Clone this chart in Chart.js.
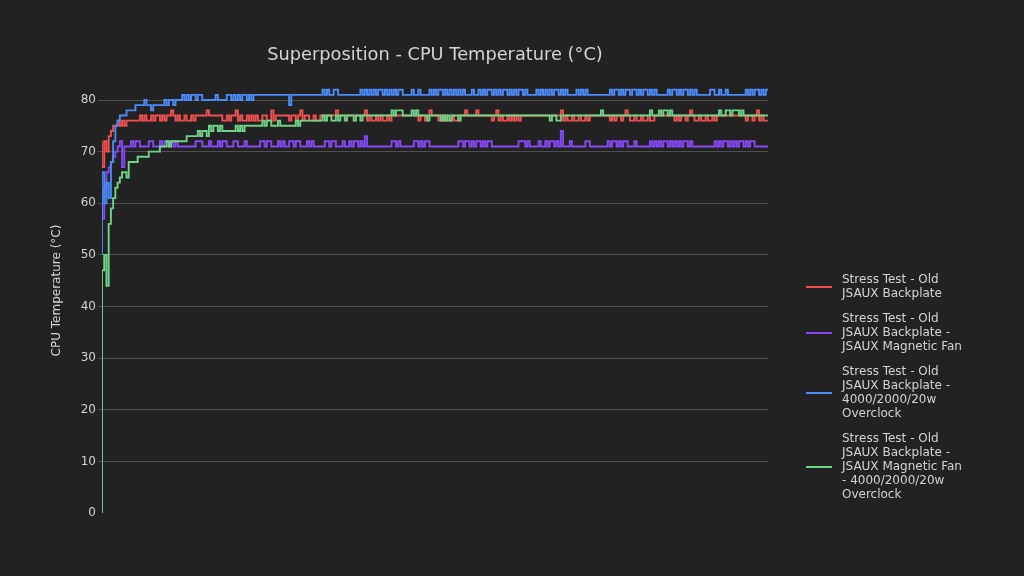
<!DOCTYPE html>
<html>
<head>
<meta charset="utf-8">
<script src="https://cdn.jsdelivr.net/npm/chart.js@4.4.1/dist/chart.umd.min.js"></script>
<style>
  html, body { margin: 0; padding: 0; background: #222222; }
  #wrap { width: 1024px; height: 576px; position: relative; }
</style>
</head>
<body>
<div id="wrap"><canvas id="c" width="1024" height="576"></canvas></div>
<script>
// ---------------- DATA ----------------
const chartTitle = "Superposition - CPU Temperature (°C)";
const yAxisTitle = "CPU Temperature (°C)";
const yTicks = [0, 10, 20, 30, 40, 50, 60, 70, 80];

const seriesNames = [
  ["Stress Test - Old", "JSAUX Backplate"],
  ["Stress Test - Old", "JSAUX Backplate -", "JSAUX Magnetic Fan"],
  ["Stress Test - Old", "JSAUX Backplate -", "4000/2000/20w", "Overclock"],
  ["Stress Test - Old", "JSAUX Backplate -", "JSAUX Magnetic Fan", "- 4000/2000/20w", "Overclock"]
];

// Stress Test - Old JSAUX Backplate
const oldBackplate = [
  72,67,72,70,73,74,75,75,76,75,76,75,76,76,76,76,76,76,77,76,
  77,76,76,77,76,77,77,76,77,76,77,77,78,77,76,77,76,76,77,76,
  76,77,76,77,77,77,77,77,78,77,77,77,77,77,77,76,76,77,76,77,
  77,78,76,77,76,76,77,76,77,76,77,76,76,77,77,76,76,78,76,77,
  77,77,77,77,77,76,77,77,76,77,78,76,77,77,76,76,77,76,76,77,
  77,77,77,77,77,77,78,77,77,77,77,77,77,77,77,77,77,77,77,78,
  76,77,76,76,77,76,77,76,76,77,76,77,77,77,77,77,77,77,77,77,
  77,77,77,76,77,77,76,77,78,77,77,77,76,77,76,77,76,76,77,76,
  76,77,77,77,78,77,77,77,77,78,77,77,77,77,77,77,76,77,78,76,
  77,76,76,77,76,77,76,77,76,77,77,77,77,77,77,77,77,77,77,77,
  77,77,77,77,77,77,77,78,76,77,76,76,77,76,76,77,76,76,77,76,
  77,77,77,77,77,77,77,77,77,76,77,76,77,77,76,77,78,77,76,76,
  77,76,76,77,76,76,77,76,76,77,77,77,77,77,77,77,77,77,76,77,
  76,77,77,76,77,78,77,76,76,77,76,76,77,76,76,77,76,77,77,77,
  77,77,77,77,77,77,77,77,77,77,76,77,77,76,77,78,76,77,76,76
];

// Stress Test - Old JSAUX Backplate - JSAUX Magnetic Fan
const magneticFan = [
  60,57,63,66,67,68,69,70,71,72,67,71,71,71,72,71,72,72,71,71,
  71,71,72,72,71,71,71,72,71,72,72,71,72,71,72,71,71,71,71,71,
  71,71,71,72,72,72,71,71,71,72,71,71,71,72,71,72,72,71,71,71,
  72,72,71,71,71,72,71,71,71,71,71,71,72,72,71,72,72,71,71,71,
  72,71,72,71,71,72,72,71,72,72,71,71,71,72,71,72,71,71,71,71,
  71,72,72,71,72,72,71,71,71,72,71,71,72,71,72,72,71,72,71,73,
  71,71,71,71,71,71,71,71,71,71,71,72,72,71,72,71,71,71,71,71,
  71,72,72,71,72,71,72,72,71,71,71,71,71,71,71,71,71,71,71,71,
  71,72,72,71,72,72,71,72,71,72,72,71,72,71,72,72,71,71,71,71,
  71,71,71,71,71,71,71,71,72,72,72,71,72,71,71,71,71,72,71,71,
  72,71,72,72,71,72,71,74,71,71,71,72,71,71,71,71,71,71,72,72,
  71,71,71,71,71,71,71,71,72,71,72,72,71,72,71,72,72,71,71,71,
  72,71,71,71,71,71,71,72,71,72,71,72,71,72,72,71,72,71,72,71,
  72,71,72,72,71,72,71,71,71,71,71,71,71,71,71,71,72,71,72,71,
  72,72,71,72,71,72,71,72,72,71,72,71,72,72,71,71,71,71,71,71
];

// Stress Test - Old JSAUX Backplate - 4000/2000/20w Overclock
const overclock = [
  50,66,60,64,61,68,72,75,76,77,77,77,78,78,78,78,79,79,79,79,
  80,79,79,78,79,79,79,79,79,80,79,80,80,79,80,80,80,81,80,81,
  80,81,81,80,81,81,80,80,80,80,80,80,81,80,80,80,80,81,81,80,
  81,80,81,80,81,81,80,81,80,81,81,81,81,81,81,81,81,81,81,81,
  81,81,81,81,81,79,81,81,81,81,81,81,81,81,81,81,81,81,81,81,
  82,81,82,81,81,82,82,81,81,81,81,81,81,81,81,81,81,82,81,82,
  81,82,81,82,81,82,82,81,82,81,82,81,82,81,82,82,81,81,81,81,
  82,81,81,82,81,81,81,81,82,81,82,81,82,82,81,82,81,82,81,82,
  81,82,81,82,81,81,81,82,81,81,82,81,82,81,82,82,81,82,81,82,
  81,82,82,81,82,81,82,81,82,82,81,82,81,81,81,81,82,81,82,81,
  82,81,82,81,82,82,81,82,81,82,81,81,81,81,82,81,82,81,82,81,
  81,81,81,81,81,81,81,81,81,82,81,82,82,81,82,81,82,82,81,82,
  82,81,82,81,82,82,81,82,81,82,81,81,81,81,81,82,81,82,82,81,
  82,81,82,82,81,82,81,82,81,81,81,81,81,81,82,82,81,81,82,81,
  81,82,81,81,81,81,81,81,81,81,82,81,82,81,82,82,81,82,81,82
];

// Stress Test - Old JSAUX Backplate - JSAUX Magnetic Fan - 4000/2000/20w Overclock
const fanOverclock = [
  0,47,50,44,56,59,61,63,64,65,66,66,65,68,68,68,68,69,69,69,
  69,69,70,70,70,70,70,71,71,71,72,71,72,72,72,72,72,72,72,73,
  73,73,73,73,74,73,74,74,73,75,74,75,75,74,75,74,74,74,74,74,
  74,75,74,75,74,75,75,75,75,75,75,75,75,76,75,76,76,75,75,75,
  76,75,75,75,75,75,75,75,76,75,76,76,76,76,76,76,76,76,76,76,
  77,76,77,77,76,76,77,76,77,77,76,77,77,77,76,77,77,76,77,77,
  77,77,77,77,77,77,77,77,77,77,77,78,77,78,78,78,77,77,77,77,
  78,77,78,77,77,77,77,76,77,77,77,77,77,76,77,76,77,76,77,77,
  77,76,77,77,77,77,77,77,77,77,77,77,77,77,77,77,77,77,77,77,
  77,77,77,77,77,77,77,77,77,77,77,77,77,77,77,77,77,77,77,77,
  77,77,76,77,77,76,76,77,77,77,77,77,77,77,77,77,77,77,77,77,
  77,77,77,77,77,78,77,77,77,77,77,77,77,77,77,77,77,77,77,77,
  77,77,77,77,77,77,77,78,77,77,77,78,77,78,78,77,78,77,77,77,
  77,77,77,77,77,77,77,77,77,77,77,77,77,77,77,77,77,77,78,77,
  77,78,78,77,78,78,78,77,78,77,77,77,77,77,77,77,77,77,77,77
];

// ---------------- STYLE ----------------
const seriesValues = [oldBackplate, magneticFan, overclock, fanOverclock];
const seriesColors = ['rgb(242,80,80)', 'rgb(134,72,245)', 'rgb(76,140,250)', 'rgb(110,212,135)'];
const drawOrder = [3, 2, 1, 0];
const TEXT = 'rgb(212,212,212)';
const GRID = 'rgb(78,78,78)';
const FONT = '"DejaVu Sans", sans-serif';

const datasets = seriesValues.map((vals, k) => ({
  label: seriesNames[k].join(' '),
  data: vals.map((v, i) => ({ x: i, y: v })),
  borderColor: seriesColors[k],
  backgroundColor: seriesColors[k],
  borderWidth: 1.9,
  pointRadius: 0,
  stepped: 'after',
  tension: 0,
  fill: false,
  order: drawOrder[k]
}));

const titleLegendPlugin = {
  id: 'titleLegend',
  afterDraw(chart) {
    const ctx = chart.ctx;
    const ca = chart.chartArea;
    ctx.save();
    ctx.fillStyle = TEXT;
    ctx.font = '17.8px ' + FONT;
    ctx.textAlign = 'center';
    ctx.textBaseline = 'alphabetic';
    ctx.fillText(chartTitle, (ca.left + ca.right) / 2, 60);

    ctx.font = '12px ' + FONT;
    ctx.textAlign = 'left';
    ctx.textBaseline = 'middle';
    let y = 280;
    seriesNames.forEach((lines, k) => {
      const first = y;
      const last = y + (lines.length - 1) * 14;
      const mid = (first + last) / 2;
      ctx.strokeStyle = seriesColors[k];
      ctx.lineWidth = 2;
      ctx.beginPath();
      ctx.moveTo(806, mid);
      ctx.lineTo(832, mid);
      ctx.stroke();
      ctx.fillStyle = TEXT;
      lines.forEach((t, j) => ctx.fillText(t, 842, first + j * 14));
      y = last + 25;
    });
    ctx.restore();
  }
};

new Chart(document.getElementById('c'), {
  type: 'line',
  data: { datasets },
  options: {
    responsive: false,
    animation: false,
    devicePixelRatio: 1,
    layout: { padding: { left: 0, right: 256, top: 68, bottom: 63 } },
    plugins: {
      legend: { display: false },
      title: { display: false },
      tooltip: { enabled: false }
    },
    scales: {
      x: {
        type: 'linear',
        min: 0,
        max: oldBackplate.length - 1,
        display: false
      },
      y: {
        type: 'linear',
        min: 0,
        max: 86.2,
        afterFit(scale) { scale.width = 102; },
        afterBuildTicks(scale) {
          scale.ticks = yTicks.map(v => ({ value: v }));
        },
        border: { display: false },
        grid: {
          color: ctx => (ctx.tick && ctx.tick.value === 0) ? 'rgba(0,0,0,0)' : GRID,
          lineWidth: 1,
          drawTicks: true,
          tickLength: 4,
          tickColor: ctx => (ctx.tick && ctx.tick.value === 0) ? 'rgba(0,0,0,0)' : GRID
        },
        ticks: {
          color: TEXT,
          font: { family: FONT, size: 12 },
          padding: 2
        },
        title: {
          display: true,
          text: yAxisTitle,
          color: TEXT,
          font: { family: FONT, size: 12 },
          padding: { top: 50, bottom: 0 }
        }
      }
    }
  },
  plugins: [titleLegendPlugin]
});
</script>
</body>
</html>
